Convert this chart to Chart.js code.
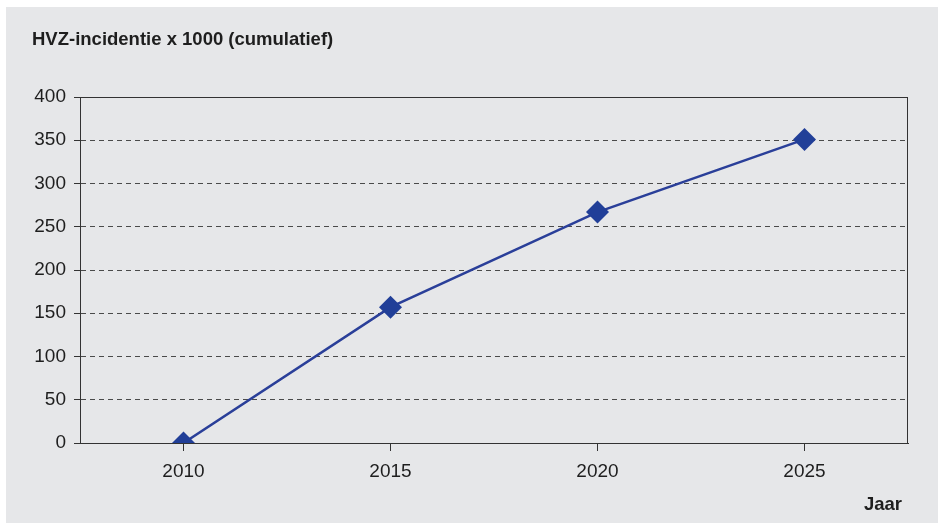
<!DOCTYPE html>
<html>
<head>
<meta charset="utf-8">
<script src="https://cdn.jsdelivr.net/npm/chart.js@4/dist/chart.umd.min.js"></script>
<style>
  html, body { margin: 0; padding: 0; background: #fff; }
  #wrap { position: absolute; left: 6px; top: 7px; width: 932px; height: 516px; background: #e6e7e9; }
  canvas { display: block; }
</style>
</head>
<body>
<div id="wrap"><canvas id="hvzChart" width="932" height="516"></canvas></div>
<script>
// Data
const years = ['2010', '2015', '2020', '2025'];
const incidence = [0, 157, 267, 351];
const yTicks = [0, 50, 100, 150, 200, 250, 300, 350, 400];

const titleText = 'HVZ-incidentie x 1000 (cumulatief)';
const xAxisText = 'Jaar';
const fontFamily = '"Liberation Sans", Arial, sans-serif';

// Frame round the plot area plus the two texts
const framePlugin = {
    id: 'frame',
    beforeDatasetsDraw: function(chart) {
        const a = chart.chartArea;
        const ctx = chart.ctx;
        ctx.save();
        ctx.strokeStyle = '#333';
        ctx.lineWidth = 1;
        ctx.strokeRect(a.left + 0.5, a.top + 0.5, a.right - a.left - 1, a.bottom - a.top);
        ctx.restore();
    },
    afterDraw: function(chart) {
        const ctx = chart.ctx;
        ctx.save();
        ctx.fillStyle = '#1e1e1e';
        ctx.font = 'bold 18.5px ' + fontFamily;
        ctx.textBaseline = 'middle';
        ctx.textAlign = 'left';
        ctx.fillText(titleText, 26, 33);
        ctx.textAlign = 'right';
        ctx.fillText(xAxisText, 896, 498);
        ctx.restore();
    }
};

new Chart(document.getElementById('hvzChart'), {
    type: 'line',
    data: {
        labels: years,
        datasets: [{
            label: 'HVZ-incidentie',
            data: incidence,
            borderColor: '#2a3f99',
            backgroundColor: '#213f98',
            borderWidth: 2.5,
            pointStyle: 'rectRot',
            pointRadius: 11.5,
            pointHoverRadius: 11.5,
            pointBorderWidth: 0,
            tension: 0
        }]
    },
    options: {
        responsive: false,
        animation: false,
        layout: { padding: { top: 90, left: 0, right: 30, bottom: 0 } },
        plugins: {
            legend: { display: false },
            tooltip: { enabled: false },
            title: { display: false }
        },
        scales: {
            x: {
                offset: true,
                grid: {
                    offset: false,
                    drawOnChartArea: false,
                    drawTicks: true,
                    tickLength: 8,
                    tickColor: '#333'
                },
                border: { color: '#333', width: 1 },
                ticks: {
                    color: '#1e1e1e',
                    padding: 9,
                    maxRotation: 0,
                    font: { family: fontFamily, size: 19 }
                },
                afterFit: function(scale) { scale.height = 80; }
            },
            y: {
                min: 0,
                max: 400,
                afterBuildTicks: function(scale) {
                    scale.ticks = yTicks.map(v => ({ value: v }));
                },
                grid: {
                    color: '#4a4a4a',
                    lineWidth: 1,
                    drawTicks: true,
                    tickLength: 6,
                    tickColor: '#333'
                },
                border: { color: '#333', width: 1, dash: [5, 4] },
                ticks: {
                    color: '#1e1e1e',
                    padding: 8,
                    font: { family: fontFamily, size: 19 }
                },
                afterFit: function(scale) { scale.width = 74; }
            }
        }
    },
    plugins: [framePlugin]
});
</script>
</body>
</html>
